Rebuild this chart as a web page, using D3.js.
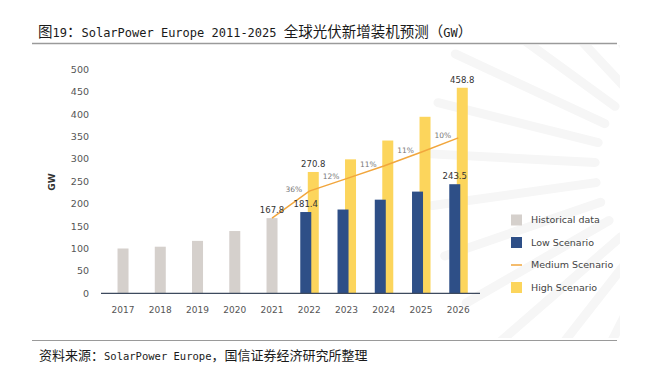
<!DOCTYPE html>
<html>
<head>
<meta charset="utf-8">
<script src="https://cdn.jsdelivr.net/npm/d3@7"></script>
<style>
  body { margin: 0; background: #fff; }
  svg { display: block; }
</style>
</head>
<body>
<svg id="chart" width="650" height="370"></svg>
<script>
const years = ['2017', '2018', '2019', '2020', '2021', '2022', '2023', '2024', '2025', '2026'];
const histYears = ['2017', '2018', '2019', '2020', '2021'];
const histValues = [100, 104, 117, 139, 167.8];
const forecastYears = ['2022', '2023', '2024', '2025', '2026'];
const lowValues = [181.4, 187, 209, 227, 243.5];
const highValues = [270.8, 299, 341, 394, 458.8];
const mediumYears = ['2021', '2022', '2023', '2024', '2025', '2026'];
const mediumValues = [167.8, 228, 256, 284, 315, 347];
const growthLabels = ['36%', '12%', '11%', '11%', '10%'];
const yTicks = [0, 50, 100, 150, 200, 250, 300, 350, 400, 450, 500];
const valueLabels = [
  { year: '2021', series: 'hist', value: 167.8 },
  { year: '2022', series: 'low', value: 181.4 },
  { year: '2022', series: 'high', value: 270.8 },
  { year: '2026', series: 'low', value: 243.5 },
  { year: '2026', series: 'high', value: 458.8 }
];
const legendItems = [
  { name: 'Historical data', kind: 'rect', color: '#d5d0cc' },
  { name: 'Low Scenario', kind: 'rect', color: '#2e4f87' },
  { name: 'Medium Scenario', kind: 'line', color: '#f1a63d' },
  { name: 'High Scenario', kind: 'rect', color: '#fcd55c' }
];
const titleText = '图19：SolarPower Europe 2011-2025 全球光伏新增装机预测（GW）';
const sourceText = '资料来源：SolarPower Europe，国信证券经济研究所整理';

const colors = { hist: '#d5d0cc', low: '#2e4f87', high: '#fcd55c', medium: '#f1a63d' };
const chartFont = '"DejaVu Sans", sans-serif';

const svg = d3.select('#chart');

// latin runs in mono, CJK runs in the CJK font, like the report template
function mixedText(sel, str, cjkSize, latinSize) {
  const runs = str.match(/[\x00-\x7F]+|[^\x00-\x7F]+/g);
  runs.forEach(r => {
    const ascii = /^[\x00-\x7F]+$/.test(r);
    sel.append('tspan')
      .attr('font-family', ascii ? '"DejaVu Sans Mono", monospace' : '"Noto Sans CJK SC", sans-serif')
      .attr('font-size', ascii ? latinSize : cjkSize)
      .attr('xml:space', 'preserve')
      .style('white-space', 'pre')
      .text(r);
  });
}

// faint sun watermark behind the chart
const wm = svg.append('g');
svg.append('clipPath').attr('id', 'wmclip')
  .append('rect').attr('x', 32).attr('y', 45).attr('width', 588).attr('height', 293);
wm.attr('clip-path', 'url(#wmclip)');
const rayAngles = d3.range(100, 262, 11);
wm.selectAll('line').data(rayAngles).join('line')
  .attr('x1', a => 700 + 105 * Math.cos(a * Math.PI / 180))
  .attr('y1', a => 168 - 105 * Math.sin(a * Math.PI / 180))
  .attr('x2', a => 700 + 270 * Math.cos(a * Math.PI / 180))
  .attr('y2', a => 168 - 270 * Math.sin(a * Math.PI / 180))
  .attr('stroke', '#f6f6f6')
  .attr('stroke-width', 9)
  .attr('stroke-linecap', 'round');

// title and source
mixedText(svg.append('text').attr('x', 38).attr('y', 37).attr('fill', '#1a1a1a'), titleText, 14.5, 12);
svg.append('line').attr('x1', 32).attr('x2', 617).attr('y1', 43.5).attr('y2', 43.5)
  .attr('stroke', '#9a9a9a').attr('stroke-width', 1.5);
svg.append('line').attr('x1', 32).attr('x2', 617).attr('y1', 340.5).attr('y2', 340.5)
  .attr('stroke', '#9a9a9a').attr('stroke-width', 1.2);
mixedText(svg.append('text').attr('x', 39).attr('y', 359.5).attr('fill', '#1a1a1a'), sourceText, 13, 10.5);

// scales
const x = d3.scaleBand().domain(years).range([104.4, 476.9]).padding(0);
const cx = d => x(d) + x.bandwidth() / 2;
const y = d3.scaleLinear().domain([0, 500]).range([293.3, 69.3]);
const barW = 11;
const barX = { hist: -5.5, low: -9, high: -1.5 };

const g = svg.append('g');

// y axis
const yAxis = d3.axisLeft(y).tickValues(yTicks).tickSize(0).tickPadding(12);
g.append('g')
  .attr('transform', 'translate(101,0)')
  .call(yAxis)
  .call(a => a.select('.domain').remove())
  .call(a => a.selectAll('text')
    .attr('font-family', chartFont).attr('font-size', 9.5).attr('fill', '#555'));

g.append('text')
  .attr('transform', 'translate(55,182) rotate(-90)')
  .attr('text-anchor', 'middle')
  .attr('font-family', chartFont).attr('font-size', 9).attr('font-weight', 'bold')
  .attr('fill', '#333')
  .text('GW');

// x axis
const xAxis = d3.axisBottom(x).tickSize(0).tickPadding(13);
g.append('g')
  .attr('transform', 'translate(0,' + y(0) + ')')
  .call(xAxis)
  .call(a => a.select('.domain').remove())
  .call(a => a.selectAll('text')
    .attr('font-family', chartFont).attr('font-size', 9).attr('fill', '#555'));

// bars
g.selectAll('.bar.hist').data(histYears).join('rect')
  .attr('class', 'bar hist')
  .attr('x', (d) => cx(d) + barX.hist)
  .attr('y', (d, i) => y(histValues[i]))
  .attr('width', barW)
  .attr('height', (d, i) => y(0) - y(histValues[i]))
  .attr('fill', colors.hist);

g.selectAll('.bar.high').data(forecastYears).join('rect')
  .attr('class', 'bar high')
  .attr('x', d => cx(d) + barX.high)
  .attr('y', (d, i) => y(highValues[i]))
  .attr('width', barW)
  .attr('height', (d, i) => y(0) - y(highValues[i]))
  .attr('fill', colors.high);

g.selectAll('.bar.low').data(forecastYears).join('rect')
  .attr('class', 'bar low')
  .attr('x', d => cx(d) + barX.low)
  .attr('y', (d, i) => y(lowValues[i]))
  .attr('width', barW)
  .attr('height', (d, i) => y(0) - y(lowValues[i]))
  .attr('fill', colors.low);

// baseline
g.append('line')
  .attr('x1', 101).attr('x2', 480)
  .attr('y1', y(0)).attr('y2', y(0))
  .attr('stroke', '#3d4a5e').attr('stroke-width', 1.2);

// medium scenario line
const line = d3.line().x((d, i) => cx(mediumYears[i])).y(d => y(d));
g.append('path')
  .attr('d', line(mediumValues))
  .attr('fill', 'none')
  .attr('stroke', colors.medium)
  .attr('stroke-width', 1.5);

g.selectAll('.growth').data(growthLabels).join('text')
  .attr('class', 'growth')
  .attr('x', (d, i) => cx(mediumYears[i + 1]) - 15.5)
  .attr('y', (d, i) => y(mediumValues[i + 1]) + 0.5)
  .attr('text-anchor', 'middle')
  .attr('font-family', chartFont).attr('font-size', 7.5).attr('fill', '#777')
  .text(d => d);

// value labels
g.selectAll('.vlabel').data(valueLabels).join('text')
  .attr('class', 'vlabel')
  .attr('x', d => cx(d.year) + barX[d.series] + barW / 2)
  .attr('y', d => y(d.value) - 5)
  .attr('text-anchor', 'middle')
  .attr('font-family', chartFont).attr('font-size', 8.5).attr('fill', '#333')
  .text(d => d.value.toFixed(1));

// legend
const legend = svg.append('g').attr('transform', 'translate(511,220)');
const item = legend.selectAll('g').data(legendItems).join('g')
  .attr('transform', (d, i) => 'translate(0,' + (i * 22.5) + ')');
item.filter(d => d.kind === 'rect').append('rect')
  .attr('x', 0).attr('y', -5.5).attr('width', 11).attr('height', 11)
  .attr('fill', d => d.color);
item.filter(d => d.kind === 'line').append('line')
  .attr('x1', 0).attr('x2', 11).attr('y1', 0).attr('y2', 0)
  .attr('stroke', d => d.color).attr('stroke-width', 1.5);
item.append('text')
  .attr('x', 20).attr('y', 0).attr('dy', '0.35em')
  .attr('font-family', chartFont).attr('font-size', 9.5).attr('fill', '#444')
  .text(d => d.name);
</script>
</body>
</html>
